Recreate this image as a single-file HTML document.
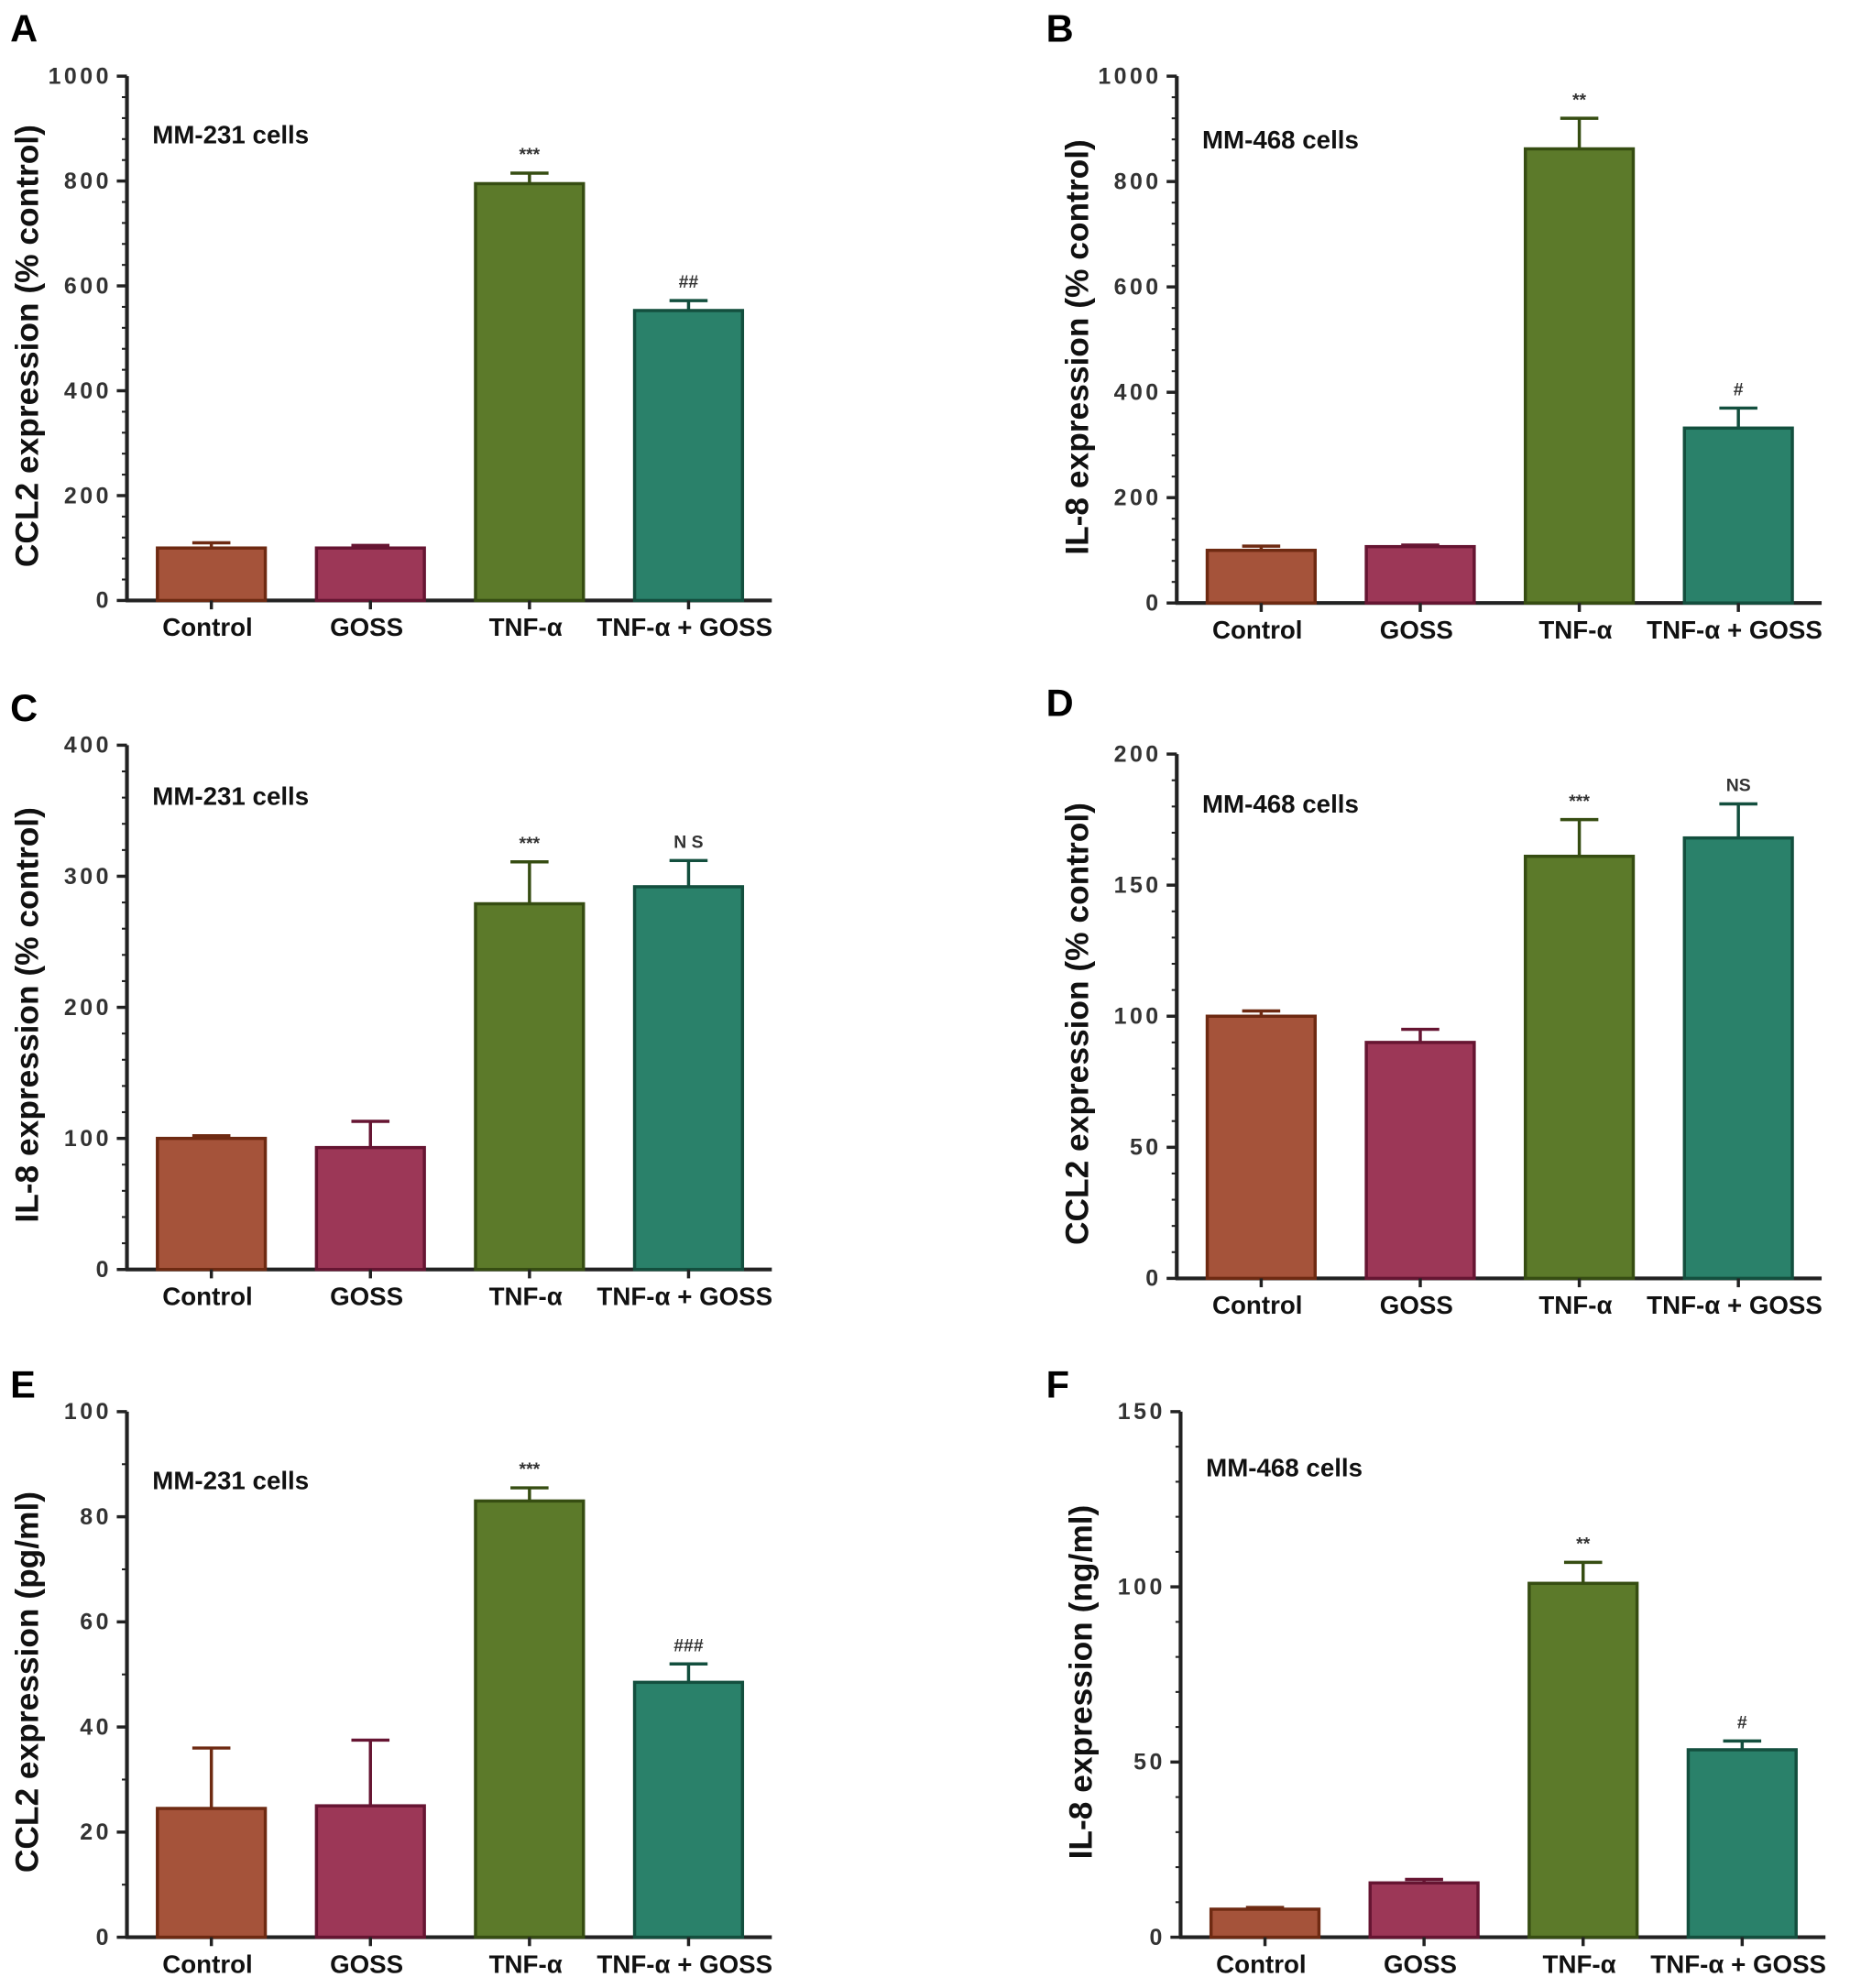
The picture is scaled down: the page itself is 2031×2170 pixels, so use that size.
<!DOCTYPE html>
<html><head><meta charset="utf-8"><style>
html,body{margin:0;padding:0;background:#fff}
svg{display:block}
text{font-family:"Liberation Sans",sans-serif}
</style></head><body>
<svg id="fig" width="2031" height="2170" viewBox="0 0 1466 1566" preserveAspectRatio="none" xmlns="http://www.w3.org/2000/svg"></svg>
<script>
const categories = ["Control","GOSS","TNF-α","TNF-α + GOSS"];
const valuesA = [100,100,795,553]; const errA = [110,105,815,572]; const sigA = ["","","***","##"];
const valuesB = [100,107,862,332]; const errB = [108,110,920,370]; const sigB = ["","","**","#"];
const valuesC = [100,93,279,292]; const errC = [102,113,311,312]; const sigC = ["","","***","N S"];
const valuesD = [100,90,161,168]; const errD = [102,95,175,181]; const sigD = ["","","***","NS"];
const valuesE = [24.5,25,83,48.5]; const errE = [36,37.5,85.5,52]; const sigE = ["","","***","###"];
const valuesF = [8,15.5,101,53.5]; const errF = [8.5,16.5,107,56]; const sigF = ["","","**","#"];
const ticksA = [0,200,400,600,800,1000];
const ticksB = [0,200,400,600,800,1000];
const ticksC = [0,100,200,300,400];
const ticksD = [0,50,100,150,200];
const ticksE = [0,20,40,60,80,100];
const ticksF = [0,50,100,150];

const fills = ["#a5533a","#9c3757","#5c7a2a","#2a816a"];
const strokes = ["#6e2a12","#661532","#364d12","#134f3e"];
const NS = "http://www.w3.org/2000/svg";
const svg = document.getElementById('fig');
function mk(tag, attrs, parent){const e=document.createElementNS(NS,tag);for(const k in attrs)e.setAttribute(k,attrs[k]);(parent||svg).appendChild(e);return e;}

function panel(o){
  const g = mk('g',{});
  
  
  const max = o.ticks[o.ticks.length-1];
  const y = v => o.y0 - (v/max)*(o.y0-o.yTop);
  const bw = 85, step = 125.3;
  const bx = i => o.ax + 24 + i*step;
  const lt = mk('text',{x:o.lx,y:o.ly,'font-size':30,'font-weight':'bold',fill:'#000'},g);
  lt.textContent = o.letter;
  
  
  const nMinor = (o.ticks.length-1)*o.minor;
  for(let i=0;i<=nMinor;i++){
    const yy = o.y0 - i*(o.y0-o.yTop)/nMinor;
    mk('line',{x1:o.ax-4,x2:o.ax,y1:yy,y2:yy,stroke:'#222','stroke-width':1.5},g);
  }
  o.ticks.forEach(t=>{
    mk('line',{x1:o.ax-8,x2:o.ax,y1:y(t),y2:y(t),stroke:'#222','stroke-width':2.5},g);
    const tx = mk('text',{x:o.ax-12,y:y(t)+6,'font-size':18,'font-weight':'bold',fill:'#333','text-anchor':'end','letter-spacing':'2.5'},g);
    tx.textContent = t;
    
    
  });
  const yl = mk('line',{x1:o.ax,x2:o.ax,y1:o.yTop,y2:o.y0,stroke:'#222','stroke-width':3},g);
  
  
  const xl = mk('line',{x1:o.ax-1,x2:o.ax+508,y1:o.y0,y2:o.y0,stroke:'#222','stroke-width':3},g);
  
  
  const yt = mk('text',{transform:`translate(${o.ax-70},${(o.yTop+o.y0)/2+6}) rotate(-90)`,'font-size':25.5,'font-weight':'bold',fill:'#111','text-anchor':'middle'},g);
  yt.textContent = o.ytitle;
  
  
  const ct = mk('text',{x:o.ax+20,y:o.ty,'font-size':20,'font-weight':'bold',fill:'#111'},g);
  ct.textContent = o.cells;
  
  
  categories.forEach((c,i)=>{
    const x = bx(i), cx = x+bw/2;
    mk('line',{x1:cx,x2:cx,y1:y(o.vals[i]),y2:y(o.errs[i]),stroke:strokes[i],'stroke-width':2.5},g);
    mk('line',{x1:cx-15,x2:cx+15,y1:y(o.errs[i]),y2:y(o.errs[i]),stroke:strokes[i],'stroke-width':2.5},g);
    const r = mk('rect',{x:x,y:y(o.vals[i]),width:bw,height:o.y0-y(o.vals[i]),fill:fills[i],stroke:strokes[i],'stroke-width':2.5},g);
    
    
    mk('line',{x1:cx,x2:cx,y1:o.y0,y2:o.y0+7,stroke:'#222','stroke-width':2.5},g);
    const lb = mk('text',{x:cx-3,y:o.y0+28,'font-size':20,'font-weight':'bold',fill:'#111','text-anchor':'middle'},g);
    lb.textContent = c;
    
    
    if(o.sig[i]){
      const s = mk('text',{x:cx,y:y(o.errs[i])-10,'font-size':14,'font-weight':'bold',fill:'#333','text-anchor':'middle'},g);
      s.textContent = o.sig[i];
      
      
    }
  });
}
panel({letter:'A',lx:8,ly:33,ax:100,yTop:60,y0:473,ticks:ticksA,minor:5,vals:valuesA,errs:errA,sig:sigA,ytitle:'CCL2 expression (% control)',cells:'MM-231 cells',ty:113});
panel({letter:'B',lx:824,ly:33,ax:927,yTop:60,y0:475,ticks:ticksB,minor:5,vals:valuesB,errs:errB,sig:sigB,ytitle:'IL-8 expression (% control)',cells:'MM-468 cells',ty:117});
panel({letter:'C',lx:8,ly:568,ax:100,yTop:587,y0:1000,ticks:ticksC,minor:5,vals:valuesC,errs:errC,sig:sigC,ytitle:'IL-8 expression (% control)',cells:'MM-231 cells',ty:634});
panel({letter:'D',lx:824,ly:564,ax:927,yTop:594,y0:1007,ticks:ticksD,minor:5,vals:valuesD,errs:errD,sig:sigD,ytitle:'CCL2 expression (% control)',cells:'MM-468 cells',ty:640});
panel({letter:'E',lx:8,ly:1101,ax:100,yTop:1112,y0:1526,ticks:ticksE,minor:2,vals:valuesE,errs:errE,sig:sigE,ytitle:'CCL2 expression (pg/ml)',cells:'MM-231 cells',ty:1173});
panel({letter:'F',lx:824,ly:1101,ax:930,yTop:1112,y0:1526,ticks:ticksF,minor:5,vals:valuesF,errs:errF,sig:sigF,ytitle:'IL-8 expression (ng/ml)',cells:'MM-468 cells',ty:1163});
</script>
</body></html>
